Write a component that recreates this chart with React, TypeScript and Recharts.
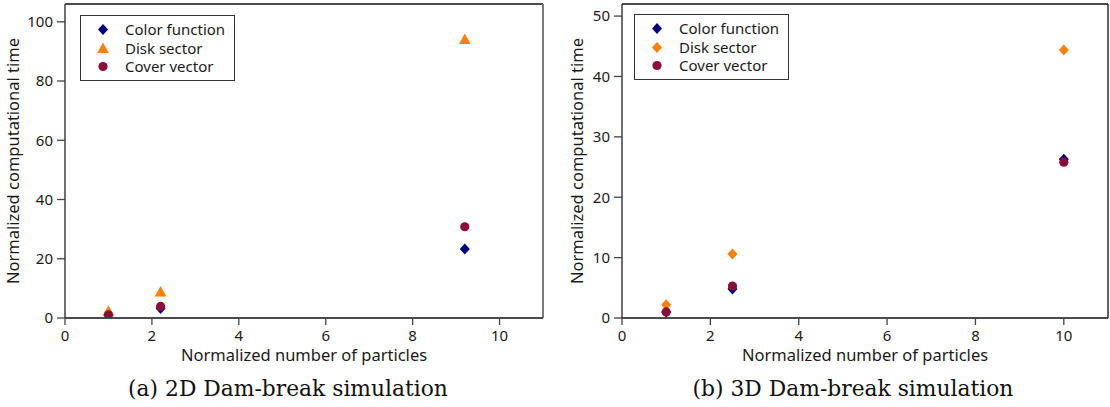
import React from "react";
import {
  ScatterChart,
  Scatter,
  XAxis,
  YAxis,
  ReferenceLine,
  Legend,
  Label,
} from "recharts";

// ---------- data ----------
const seriesNames = ["Color function", "Disk sector", "Cover vector"];

const xTicks = [0, 2, 4, 6, 8, 10];

// (a) 2D Dam-break simulation
const particles2D = [1, 2.2, 9.2];
const colorFunction2D = [1.0, 3.2, 23.3];
const diskSector2D = [2.3, 8.8, 94.0];
const coverVector2D = [1.1, 3.9, 30.8];
const yTicks2D = [0, 20, 40, 60, 80, 100];

// (b) 3D Dam-break simulation
const particles3D = [1, 2.5, 10];
const colorFunction3D = [1.0, 4.8, 26.3];
const diskSector3D = [2.2, 10.6, 44.4];
const coverVector3D = [1.0, 5.3, 25.8];
const yTicks3D = [0, 10, 20, 30, 40, 50];

const captions = ["(a) 2D Dam-break simulation", "(b) 3D Dam-break simulation"];

// ---------- styling ----------
const NAVY = "#00007f";
const ORANGE = "#ff7f00";
const CRIMSON = "#8e0c3c";
const SANS = "'Noto Sans', 'Open Sans', sans-serif";
const SERIF = "'DejaVu Serif', 'Liberation Serif', serif";
const TEXT = "#1a1a1a";

type ShapeKind = "diamond" | "triangle" | "circle";

function drawShape(kind: ShapeKind, color: string, cx: number, cy: number) {
  if (kind === "diamond") {
    return (
      <polygon
        points={`${cx},${cy - 5.5} ${cx + 5},${cy} ${cx},${cy + 5.5} ${cx - 5},${cy}`}
        fill={color}
      />
    );
  }
  if (kind === "triangle") {
    return (
      <polygon
        points={`${cx},${cy - 6} ${cx + 5.8},${cy + 4.5} ${cx - 5.8},${cy + 4.5}`}
        fill={color}
      />
    );
  }
  return <circle cx={cx} cy={cy} r={4.6} fill={color} />;
}

const makeShape = (kind: ShapeKind, color: string) => (props: any) =>
  drawShape(kind, color, props.cx, props.cy);

const toPoints = (xs: number[], ys: number[]) => xs.map((x, i) => ({ x, y: ys[i] }));

interface SeriesDef {
  name: string;
  kind: ShapeKind;
  color: string;
  data: { x: number; y: number }[];
}

interface PanelProps {
  series: SeriesDef[];
  yTicks: number[];
  yMax: number;
  yAxisWidth: number;
  marginRight: number;
  rightBorderColor: string;
  rightBorderWidth: number;
  yLabelX: number;
  legendLeft: number;
  legendTop: number;
}

const LegendBox = ({ series }: { series: SeriesDef[] }) => (
  <div
    style={{
      border: "1px solid #333",
      width: 153,
      height: 64,
      background: "#fff",
      position: "relative",
      fontFamily: SANS,
      fontSize: 15,
      color: TEXT,
    }}
  >
    {series.map((s, i) => (
      <div
        key={s.name}
        style={{
          position: "absolute",
          left: 0,
          top: 4 + i * 18.7,
          height: 19,
          display: "flex",
          alignItems: "center",
          whiteSpace: "nowrap",
        }}
      >
        <svg width={44} height={19} style={{ display: "block" }}>
          {drawShape(s.kind, s.color, 22, 9.5)}
        </svg>
        <span style={{ lineHeight: "19px" }}>{s.name}</span>
      </div>
    ))}
  </div>
);

const Panel = (p: PanelProps) => {
  const W = 555;
  const H = 370;
  return (
    <ScatterChart
      width={W}
      height={H}
      margin={{ top: 4, right: p.marginRight, bottom: 0, left: 0 }}
    >
      <XAxis
        type="number"
        dataKey="x"
        domain={[0, 11]}
        ticks={xTicks}
        allowDataOverflow
        height={52}
        tickSize={7}
        tickMargin={5}
        axisLine={{ stroke: "#111", strokeWidth: 1.3 }}
        tickLine={{ stroke: "#444", strokeWidth: 1.3 }}
        tick={{ fill: TEXT, fontSize: 15, fontFamily: SANS }}
      >
        <Label
          content={(props: any) => {
            const vb = props.viewBox;
            return (
              <text
                x={vb.x + vb.width / 2}
                y={vb.y + 43}
                textAnchor="middle"
                fill={TEXT}
                fontSize={16.5}
                fontFamily={SANS}
              >
                Normalized number of particles
              </text>
            );
          }}
        />
      </XAxis>
      <YAxis
        type="number"
        dataKey="y"
        domain={[0, p.yMax]}
        ticks={p.yTicks}
        allowDataOverflow
        width={p.yAxisWidth}
        tickSize={8}
        tickMargin={4}
        axisLine={{ stroke: "#222", strokeWidth: 1.3 }}
        tickLine={{ stroke: "#444", strokeWidth: 1.3 }}
        tick={{ fill: TEXT, fontSize: 15, fontFamily: SANS }}
      >
        <Label
          content={(props: any) => {
            const vb = props.viewBox;
            const cy = vb.y + vb.height / 2;
            return (
              <text
                x={p.yLabelX}
                y={cy}
                textAnchor="middle"
                fill={TEXT}
                fontSize={16.5}
                fontFamily={SANS}
                transform={`rotate(-90, ${p.yLabelX}, ${cy})`}
              >
                Normalized computational time
              </text>
            );
          }}
        />
      </YAxis>
      <ReferenceLine y={p.yMax} stroke="#111" strokeWidth={1.3} ifOverflow="visible" />
      <ReferenceLine
        x={11}
        stroke={p.rightBorderColor}
        strokeWidth={p.rightBorderWidth}
        ifOverflow="visible"
      />
      {p.series.map((s) => (
        <Scatter
          key={s.name}
          name={s.name}
          data={s.data}
          fill={s.color}
          shape={makeShape(s.kind, s.color)}
          isAnimationActive={false}
        />
      ))}
      <Legend
        layout="vertical"
        align="center"
        verticalAlign="middle"
        wrapperStyle={{ left: p.legendLeft, top: p.legendTop, width: "auto", height: "auto" }}
        content={() => <LegendBox series={p.series} />}
      />
    </ScatterChart>
  );
};

const series2D: SeriesDef[] = [
  { name: seriesNames[0], kind: "diamond", color: NAVY, data: toPoints(particles2D, colorFunction2D) },
  { name: seriesNames[1], kind: "triangle", color: ORANGE, data: toPoints(particles2D, diskSector2D) },
  { name: seriesNames[2], kind: "circle", color: CRIMSON, data: toPoints(particles2D, coverVector2D) },
];

const series3D: SeriesDef[] = [
  { name: seriesNames[0], kind: "diamond", color: NAVY, data: toPoints(particles3D, colorFunction3D) },
  { name: seriesNames[1], kind: "diamond", color: ORANGE, data: toPoints(particles3D, diskSector3D) },
  { name: seriesNames[2], kind: "circle", color: CRIMSON, data: toPoints(particles3D, coverVector3D) },
];

export default function App() {
  return (
    <div
      style={{
        position: "absolute",
        left: 0,
        top: 0,
        width: 1110,
        height: 407,
        background: "#fff",
        overflow: "hidden",
      }}
    >
      <div style={{ position: "absolute", left: 0, top: 0 }}>
        <Panel
          series={series2D}
          yTicks={yTicks2D}
          yMax={106}
          yAxisWidth={65}
          marginRight={12}
          rightBorderColor="#7a7a7a"
          rightBorderWidth={2}
          yLabelX={19}
          legendLeft={80}
          legendTop={15}
        />
      </div>
      <div style={{ position: "absolute", left: 555, top: 0 }}>
        <Panel
          series={series3D}
          yTicks={yTicks3D}
          yMax={52}
          yAxisWidth={67}
          marginRight={2}
          rightBorderColor="#111"
          rightBorderWidth={1.3}
          yLabelX={28}
          legendLeft={79}
          legendTop={14}
        />
      </div>
      {captions.map((c, i) => (
        <div
          key={c}
          style={{
            position: "absolute",
            left: (i === 0 ? 288 : 853) - 250,
            width: 500,
            top: 375,
            textAlign: "center",
            fontFamily: SERIF,
            fontSize: 21.8,
            fontWeight: 300,
            color: "#111",
            lineHeight: "28px",
            whiteSpace: "nowrap",
          }}
        >
          {c}
        </div>
      ))}
    </div>
  );
}
